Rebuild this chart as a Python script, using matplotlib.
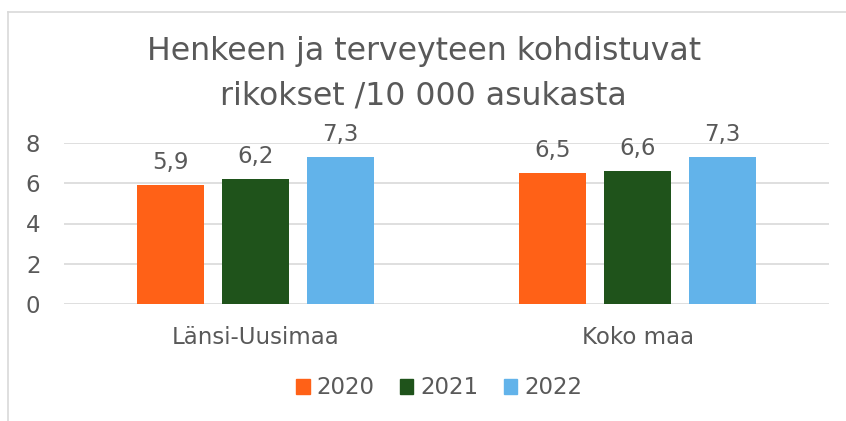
import matplotlib.pyplot as plt
from matplotlib.lines import Line2D
import numpy as np

# Data
categories = ['Länsi-Uusimaa', 'Koko maa']
years = ['2020', '2021', '2022']
values_2020 = [5.9, 6.5]
values_2021 = [6.2, 6.6]
values_2022 = [7.3, 7.3]
labels_2020 = ['5,9', '6,5']
labels_2021 = ['6,2', '6,6']
labels_2022 = ['7,3', '7,3']

colors = ['#ff6117', '#1f531b', '#62b3ea']
text_color = '#595959'
grid_color = '#d9d9d9'

plt.rcParams['font.family'] = ['DejaVu Sans']

fig = plt.figure(figsize=(8.46, 4.21), dpi=100)
ax = fig.add_axes([64 / 846, 1 - 304 / 421, (829 - 64) / 846, 161 / 421])

x = np.arange(len(categories))
offset = 0.222
width = 0.175

series = [values_2020, values_2021, values_2022]
labels = [labels_2020, labels_2021, labels_2022]
for i, (vals, labs) in enumerate(zip(series, labels)):
    pos = x + (i - 1) * offset
    ax.bar(pos, vals, width=width, color=colors[i], label=years[i], zorder=3)
    for px, v, lab in zip(pos, vals, labs):
        ax.annotate(lab, (px, v), xytext=(0, 8), textcoords='offset points',
                    ha='center', va='bottom', fontsize=16.5, color=text_color)

ax.set_xlim(-0.5, 1.5)
ax.set_ylim(0, 8)
ax.set_yticks([0, 2, 4, 6, 8])
ax.set_xticks(x)
ax.set_xticklabels(categories)
ax.tick_params(axis='both', length=0, labelsize=16.5, labelcolor=text_color)
ax.tick_params(axis='y', pad=17)
ax.tick_params(axis='x', pad=16)
ax.grid(axis='y', color=grid_color, linewidth=1.2, zorder=0)
for s in ax.spines.values():
    s.set_visible(False)

# Title
fig.text(0.501, 1 - 74 / 421,
         'Henkeen ja terveyteen kohdistuvat\nrikokset /10 000 asukasta',
         ha='center', va='center', fontsize=22.7, color=text_color,
         linespacing=1.55)

# Legend
handles = [plt.Rectangle((0, 0), 1, 1, color=c) for c in colors]
fig.legend(handles, years, loc='center', bbox_to_anchor=(439 / 846, 1 - 388 / 421),
           ncol=3, frameon=False, fontsize=16.5, labelcolor=text_color,
           handlelength=0.6, handleheight=0.6, handletextpad=0.3, columnspacing=1.1)

# Chart border
fig.add_artist(Line2D([8 / 846, 8 / 846], [0, 1 - 12 / 421], transform=fig.transFigure,
                      color=grid_color, linewidth=1.2))
fig.add_artist(Line2D([8 / 846, 1], [1 - 12 / 421, 1 - 12 / 421], transform=fig.transFigure,
                      color=grid_color, linewidth=1.2))

plt.savefig('out.png', dpi=100)
